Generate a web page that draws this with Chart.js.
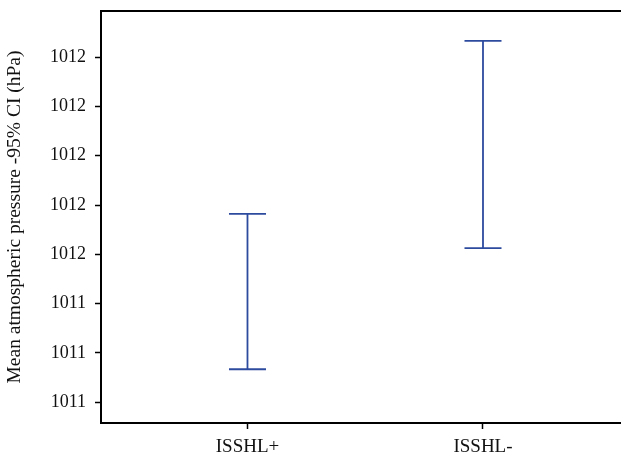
<!DOCTYPE html>
<html>
<head>
<meta charset="utf-8">
<script src="https://cdn.jsdelivr.net/npm/chart.js@4.4.0/dist/chart.umd.min.js"></script>
<style>
    html, body { margin: 0; padding: 0; background: #fff; overflow: hidden; }
</style>
</head>
<body>
<canvas id="chart" width="621" height="456"></canvas>
<script>
// --- Data --- //
const groups = ['ISSHL+', 'ISSHL-'];
const ciLower = [1011.134, 1011.625];
const ciUpper = [1011.764, 1012.466];
const yTicks = [1011.0, 1011.2, 1011.4, 1011.6, 1011.8, 1012.0, 1012.2, 1012.4];

const barColor = '#2c4a9e';
const serif = "'Liberation Serif', 'DejaVu Serif', serif";

// one dataset per group: a vertical line from lower to upper, caps as 'line' points
const datasets = groups.map((g, i) => ({
    label: g,
    data: [{ x: i, y: ciLower[i] }, { x: i, y: ciUpper[i] }],
    showLine: true,
    borderColor: barColor,
    borderWidth: 1.8,
    pointStyle: 'line',
    pointRadius: 18.5,
    pointBorderWidth: 1.8,
    pointBorderColor: barColor,
    pointBackgroundColor: barColor
}));

// top side of the box (right side sits just past the canvas edge)
const frame = {
    id: 'frame',
    afterDraw(chart) {
        const { ctx, chartArea: a } = chart;
        ctx.save();
        ctx.strokeStyle = '#000';
        ctx.lineWidth = 2;
        ctx.beginPath();
        ctx.moveTo(a.left - 1, a.top);
        ctx.lineTo(chart.width, a.top);
        ctx.stroke();
        ctx.restore();
    }
};

new Chart(document.getElementById('chart'), {
    type: 'scatter',
    data: { datasets },
    plugins: [frame],
    options: {
        responsive: false,
        animation: false,
        layout: { autoPadding: false, padding: { top: 11, right: 0, left: 0, bottom: 0 } },
        plugins: { legend: { display: false }, tooltip: { enabled: false } },
        scales: {
            x: {
                type: 'linear',
                min: -0.622,
                max: 1.586,
                afterBuildTicks: s => { s.ticks = groups.map((g, i) => ({ value: i })); },
                afterFit: s => {
                    s.height = 33;
                    s.paddingLeft = 0;
                    s.paddingRight = 0;
                },
                ticks: {
                    callback: v => groups[v],
                    color: '#111',
                    padding: 7,
                    font: { family: serif, size: 19 }
                },
                grid: { drawOnChartArea: false, tickLength: 6, tickColor: '#000', tickWidth: 1.5 },
                border: { color: '#000', width: 2 }
            },
            y: {
                min: 1010.916,
                max: 1012.587,
                afterBuildTicks: s => { s.ticks = yTicks.map(v => ({ value: v })); },
                afterFit: s => {
                    s.width = 101;
                    s.paddingTop = 0;
                    s.paddingBottom = 0;
                },
                ticks: {
                    callback: v => Math.round(v),
                    color: '#111',
                    padding: 9,
                    font: { family: serif, size: 18 }
                },
                grid: { drawOnChartArea: false, tickLength: 6, tickColor: '#000', tickWidth: 1.5 },
                border: { color: '#000', width: 2 },
                title: {
                    display: true,
                    text: 'Mean atmospheric pressure -95% CI (hPa)',
                    color: '#111',
                    padding: { top: 3, bottom: 0 },
                    font: { family: serif, size: 19.5 }
                }
            }
        }
    }
});
</script>
</body>
</html>
